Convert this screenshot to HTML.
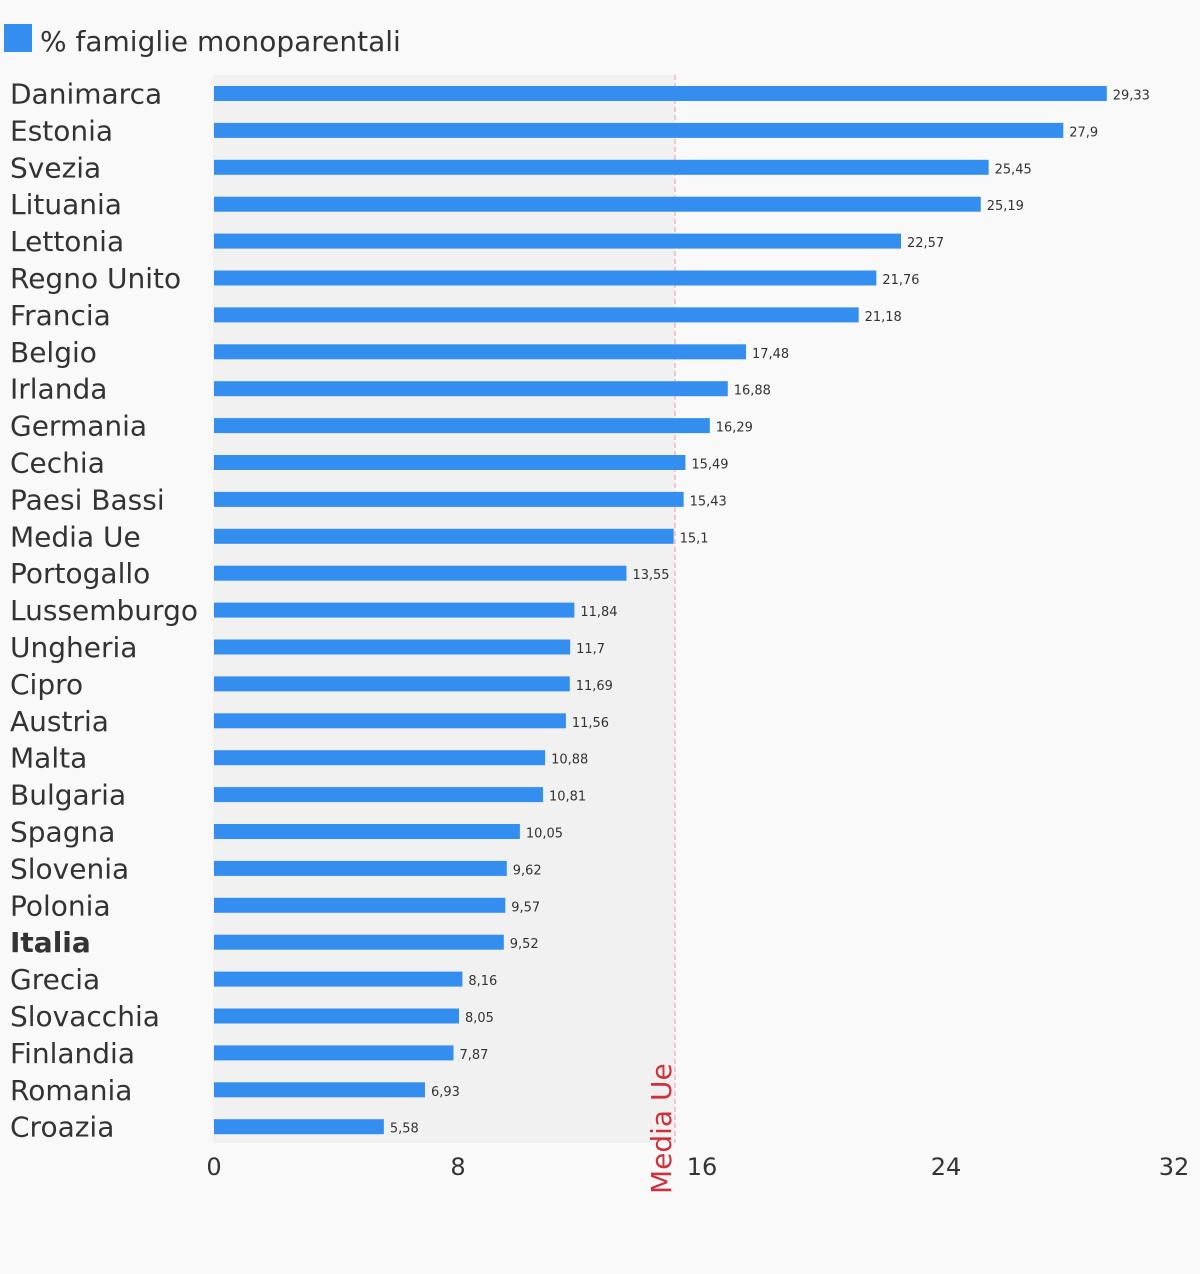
<!DOCTYPE html>
<html><head><meta charset="utf-8"><style>
html,body{margin:0;padding:0;background:#f9f9f9;}
svg{display:block;font-family:"DejaVu Sans","Liberation Sans",sans-serif;}
.n{font-size:28px;fill:#333}
.v{font-size:13px;fill:#333}
.b{fill:#348ef0}
</style></head><body>
<svg width="1200" height="1274" xmlns="http://www.w3.org/2000/svg">
<rect width="1200" height="1274" fill="#f9f9f9"/>
<rect x="4" y="24" width="28" height="28" fill="#348ef0"/>
<text x="40" y="51" font-size="28" fill="#333">% famiglie monoparentali</text>
<rect x="213" y="75" width="462" height="1068" fill="#f1f1f1"/>
<line x1="675" y1="75" x2="675" y2="1143" stroke="#f4b8bc" stroke-width="1.5" stroke-dasharray="5,3"/>
<g transform="translate(214,0) scale(0.998,1) translate(-214,0)">
<g transform="translate(0,93.5)"><rect class="b" x="214" y="-7.5" width="894.6" height="15"/><text class="v" x="1114.6" y="6">29,33</text></g>
<g transform="translate(0,130.4)"><rect class="b" x="214" y="-7.5" width="851" height="15"/><text class="v" x="1071" y="6">27,9</text></g>
<g transform="translate(0,167.3)"><rect class="b" x="214" y="-7.5" width="776.2" height="15"/><text class="v" x="996.2" y="6">25,45</text></g>
<g transform="translate(0,204.2)"><rect class="b" x="214" y="-7.5" width="768.3" height="15"/><text class="v" x="988.3" y="6">25,19</text></g>
<g transform="translate(0,241.1)"><rect class="b" x="214" y="-7.5" width="688.4" height="15"/><text class="v" x="908.4" y="6">22,57</text></g>
<g transform="translate(0,278)"><rect class="b" x="214" y="-7.5" width="663.7" height="15"/><text class="v" x="883.7" y="6">21,76</text></g>
<g transform="translate(0,314.9)"><rect class="b" x="214" y="-7.5" width="646" height="15"/><text class="v" x="866" y="6">21,18</text></g>
<g transform="translate(0,351.8)"><rect class="b" x="214" y="-7.5" width="533.1" height="15"/><text class="v" x="753.1" y="6">17,48</text></g>
<g transform="translate(0,388.7)"><rect class="b" x="214" y="-7.5" width="514.8" height="15"/><text class="v" x="734.8" y="6">16,88</text></g>
<g transform="translate(0,425.6)"><rect class="b" x="214" y="-7.5" width="496.8" height="15"/><text class="v" x="716.8" y="6">16,29</text></g>
<g transform="translate(0,462.5)"><rect class="b" x="214" y="-7.5" width="472.4" height="15"/><text class="v" x="692.4" y="6">15,49</text></g>
<g transform="translate(0,499.4)"><rect class="b" x="214" y="-7.5" width="470.6" height="15"/><text class="v" x="690.6" y="6">15,43</text></g>
<g transform="translate(0,536.3)"><rect class="b" x="214" y="-7.5" width="460.6" height="15"/><text class="v" x="680.6" y="6">15,1</text></g>
<g transform="translate(0,573.2)"><rect class="b" x="214" y="-7.5" width="413.3" height="15"/><text class="v" x="633.3" y="6">13,55</text></g>
<g transform="translate(0,610.1)"><rect class="b" x="214" y="-7.5" width="361.1" height="15"/><text class="v" x="581.1" y="6">11,84</text></g>
<g transform="translate(0,647)"><rect class="b" x="214" y="-7.5" width="356.9" height="15"/><text class="v" x="576.9" y="6">11,7</text></g>
<g transform="translate(0,683.9)"><rect class="b" x="214" y="-7.5" width="356.5" height="15"/><text class="v" x="576.5" y="6">11,69</text></g>
<g transform="translate(0,720.8)"><rect class="b" x="214" y="-7.5" width="352.6" height="15"/><text class="v" x="572.6" y="6">11,56</text></g>
<g transform="translate(0,757.7)"><rect class="b" x="214" y="-7.5" width="331.8" height="15"/><text class="v" x="551.8" y="6">10,88</text></g>
<g transform="translate(0,794.6)"><rect class="b" x="214" y="-7.5" width="329.7" height="15"/><text class="v" x="549.7" y="6">10,81</text></g>
<g transform="translate(0,831.5)"><rect class="b" x="214" y="-7.5" width="306.5" height="15"/><text class="v" x="526.5" y="6">10,05</text></g>
<g transform="translate(0,868.4)"><rect class="b" x="214" y="-7.5" width="293.4" height="15"/><text class="v" x="513.4" y="6">9,62</text></g>
<g transform="translate(0,905.3)"><rect class="b" x="214" y="-7.5" width="291.9" height="15"/><text class="v" x="511.9" y="6">9,57</text></g>
<g transform="translate(0,942.2)"><rect class="b" x="214" y="-7.5" width="290.4" height="15"/><text class="v" x="510.4" y="6">9,52</text></g>
<g transform="translate(0,979.1)"><rect class="b" x="214" y="-7.5" width="248.9" height="15"/><text class="v" x="468.9" y="6">8,16</text></g>
<g transform="translate(0,1016)"><rect class="b" x="214" y="-7.5" width="245.5" height="15"/><text class="v" x="465.5" y="6">8,05</text></g>
<g transform="translate(0,1052.9)"><rect class="b" x="214" y="-7.5" width="240" height="15"/><text class="v" x="460" y="6">7,87</text></g>
<g transform="translate(0,1089.8)"><rect class="b" x="214" y="-7.5" width="211.4" height="15"/><text class="v" x="431.4" y="6">6,93</text></g>
<g transform="translate(0,1126.7)"><rect class="b" x="214" y="-7.5" width="170.2" height="15"/><text class="v" x="390.2" y="6">5,58</text></g>
</g>
<g class="n">
<text x="10" y="103.5">Danimarca</text>
<text x="10" y="140.4">Estonia</text>
<text x="10" y="177.3">Svezia</text>
<text x="10" y="214.2">Lituania</text>
<text x="10" y="251.1">Lettonia</text>
<text x="10" y="288">Regno Unito</text>
<text x="10" y="324.9">Francia</text>
<text x="10" y="361.8">Belgio</text>
<text x="10" y="398.7">Irlanda</text>
<text x="10" y="435.6">Germania</text>
<text x="10" y="472.5">Cechia</text>
<text x="10" y="509.4">Paesi Bassi</text>
<text x="10" y="546.3">Media Ue</text>
<text x="10" y="583.2">Portogallo</text>
<text x="10" y="620.1">Lussemburgo</text>
<text x="10" y="657">Ungheria</text>
<text x="10" y="693.9">Cipro</text>
<text x="10" y="730.8">Austria</text>
<text x="10" y="767.7">Malta</text>
<text x="10" y="804.6">Bulgaria</text>
<text x="10" y="841.5">Spagna</text>
<text x="10" y="878.4">Slovenia</text>
<text x="10" y="915.3">Polonia</text>
<text x="10" y="952.2" font-weight="bold">Italia</text>
<text x="10" y="989.1">Grecia</text>
<text x="10" y="1026">Slovacchia</text>
<text x="10" y="1062.9">Finlandia</text>
<text x="10" y="1099.8">Romania</text>
<text x="10" y="1136.7">Croazia</text>
</g>
<g font-size="24" fill="#333" text-anchor="middle">
<text x="214" y="1175">0</text><text x="458" y="1175">8</text><text x="702" y="1175">16</text><text x="946" y="1175">24</text><text x="1174" y="1175">32</text>
</g>
<text transform="translate(671,1194) rotate(-90)" font-size="28" fill="#d0303a">Media Ue</text>
</svg>
</body></html>
